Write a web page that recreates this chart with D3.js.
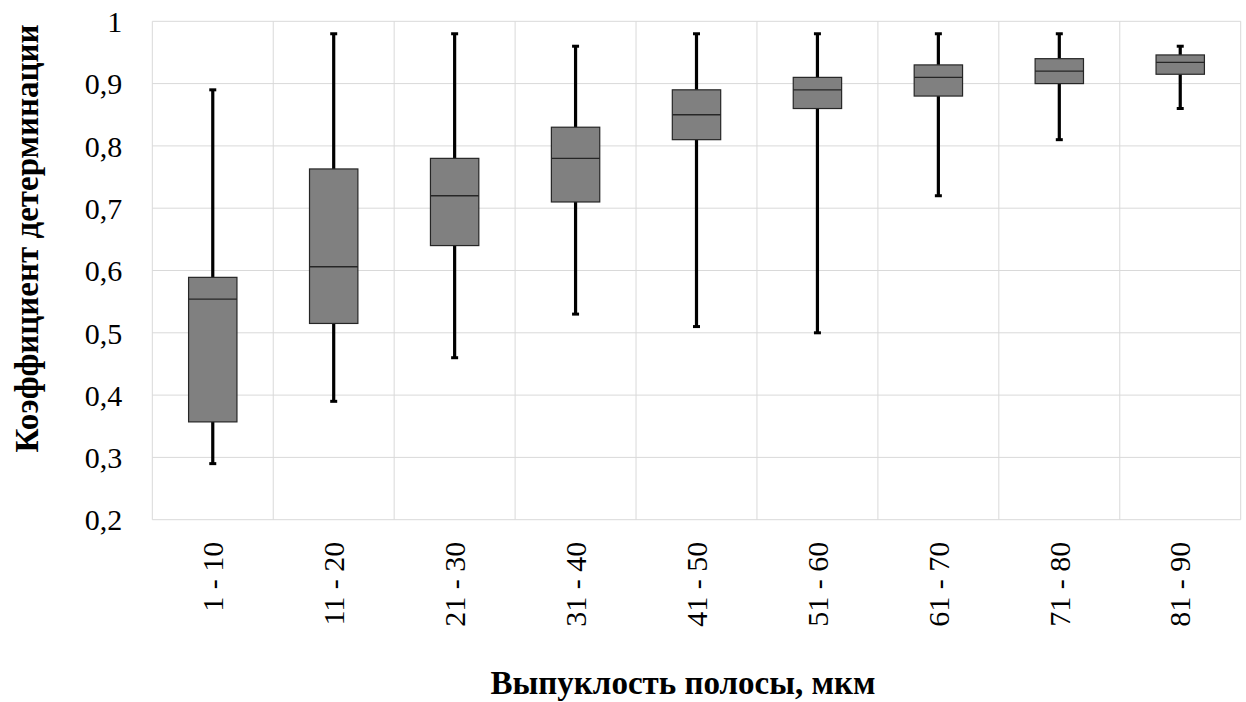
<!DOCTYPE html>
<html>
<head>
<meta charset="utf-8">
<script src="https://cdn.jsdelivr.net/npm/d3@7"></script>
<style>
  body { margin: 0; background: #fff; }
  text { font-family: "Liberation Serif", "Times New Roman", serif; fill: #000; }
</style>
</head>
<body>
<svg id="chart" width="1246" height="702"></svg>
<script>
// Распределение коэффициента детерминации по группам выпуклости полосы
const categories   = ["1 - 10", "11 - 20", "21 - 30", "31 - 40", "41 - 50", "51 - 60", "61 - 70", "71 - 80", "81 - 90"];
const whiskerLow   = [0.29, 0.39, 0.46, 0.53, 0.51, 0.50, 0.72, 0.81, 0.86];
const quartile1    = [0.357, 0.515, 0.64, 0.71, 0.81, 0.86, 0.88, 0.90, 0.915];
const medianValue  = [0.554, 0.606, 0.72, 0.78, 0.85, 0.89, 0.91, 0.92, 0.934];
const quartile3    = [0.589, 0.763, 0.78, 0.83, 0.89, 0.91, 0.93, 0.94, 0.946];
const whiskerHigh  = [0.89, 0.98, 0.98, 0.96, 0.98, 0.98, 0.98, 0.98, 0.96];
const yTickValues  = [0.2, 0.3, 0.4, 0.5, 0.6, 0.7, 0.8, 0.9, 1.0];
const yTickLabels  = ["0,2", "0,3", "0,4", "0,5", "0,6", "0,7", "0,8", "0,9", "1"];
const xTitle = "Выпуклость полосы, мкм";
const yTitle = "Коэффициент детерминации";

const boxes = categories.map((c, i) => ({
  cat: c, lo: whiskerLow[i], q1: quartile1[i], med: medianValue[i], q3: quartile3[i], hi: whiskerHigh[i]
}));

const serif = "'Liberation Serif','Times New Roman',serif";
const svg = d3.select("#chart");
const plot = { left: 152.3, right: 1240.7, top: 21.3, bottom: 519.7 };

const x = d3.scaleBand().domain(categories).range([plot.left, plot.right]).padding(0);
const y = d3.scaleLinear().domain([0.2, 1.0]).range([plot.bottom, plot.top]);

const gridColor = "#d9d9d9";

// horizontal gridlines
svg.append("g").selectAll("line").data(yTickValues).join("line")
  .attr("x1", plot.left).attr("x2", plot.right)
  .attr("y1", d => y(d)).attr("y2", d => y(d))
  .attr("stroke", gridColor).attr("stroke-width", 1);

// vertical gridlines at category boundaries
const bounds = categories.map(c => x(c)).concat([x(categories[categories.length - 1]) + x.bandwidth()]);
svg.append("g").selectAll("line").data(bounds).join("line")
  .attr("x1", d => d).attr("x2", d => d)
  .attr("y1", plot.top).attr("y2", plot.bottom)
  .attr("stroke", gridColor).attr("stroke-width", 1);

// y axis labels
const yAxis = d3.axisLeft(y).tickValues(yTickValues).tickSize(0).tickPadding(0)
  .tickFormat((d, i) => yTickLabels[i]);
const gy = svg.append("g").attr("transform", `translate(${plot.left - 30},0)`).call(yAxis)
  .attr("font-family", serif);
gy.select(".domain").remove();
gy.selectAll("text").attr("font-size", 30).attr("font-family", serif)
  .attr("fill", "#000").attr("dy", "0.34em");

// x axis labels (rotated)
const xAxis = d3.axisBottom(x).tickSize(0).tickPadding(0);
const gx = svg.append("g").attr("transform", `translate(0,${plot.bottom})`).call(xAxis)
  .attr("font-family", serif);
gx.select(".domain").remove();
gx.selectAll("text")
  .attr("font-size", 30).attr("font-family", serif).attr("fill", "#000")
  .attr("transform", "rotate(-90)")
  .attr("text-anchor", "end")
  .attr("x", -22).attr("y", 0).attr("dy", "0.34em");

const bw = x.bandwidth() * 0.4;
const cx = d => x(d.cat) + x.bandwidth() / 2;

const g = svg.append("g");
// whiskers
g.selectAll(".wu").data(boxes).join("line")
  .attr("x1", cx).attr("x2", cx).attr("y1", d => y(d.hi)).attr("y2", d => y(d.q3))
  .attr("stroke", "#000").attr("stroke-width", 3.2);
g.selectAll(".wl").data(boxes).join("line")
  .attr("x1", cx).attr("x2", cx).attr("y1", d => y(d.q1)).attr("y2", d => y(d.lo))
  .attr("stroke", "#000").attr("stroke-width", 3.2);
// caps
g.selectAll(".cu").data(boxes).join("line")
  .attr("x1", d => cx(d) - 3.5).attr("x2", d => cx(d) + 3.5)
  .attr("y1", d => y(d.hi)).attr("y2", d => y(d.hi))
  .attr("stroke", "#000").attr("stroke-width", 3);
g.selectAll(".cl").data(boxes).join("line")
  .attr("x1", d => cx(d) - 3.5).attr("x2", d => cx(d) + 3.5)
  .attr("y1", d => y(d.lo)).attr("y2", d => y(d.lo))
  .attr("stroke", "#000").attr("stroke-width", 3);
// boxes
g.selectAll("rect").data(boxes).join("rect")
  .attr("x", d => cx(d) - bw / 2).attr("width", bw)
  .attr("y", d => y(d.q3)).attr("height", d => y(d.q1) - y(d.q3))
  .attr("fill", "#808080").attr("stroke", "#262626").attr("stroke-width", 1.2);
// medians
g.selectAll(".med").data(boxes).join("line")
  .attr("x1", d => cx(d) - bw / 2).attr("x2", d => cx(d) + bw / 2)
  .attr("y1", d => y(d.med)).attr("y2", d => y(d.med))
  .attr("stroke", "#262626").attr("stroke-width", 1.4);

// axis titles
svg.append("text").attr("x", 683).attr("y", 694)
  .attr("text-anchor", "middle").attr("font-weight", "bold").attr("font-size", 33)
  .attr("font-family", serif)
  .text(xTitle);
svg.append("text").attr("transform", "translate(38,238.5) rotate(-90)")
  .attr("text-anchor", "middle").attr("font-weight", "bold").attr("font-size", 33)
  .attr("font-family", serif)
  .text(yTitle);
</script>
</body>
</html>
